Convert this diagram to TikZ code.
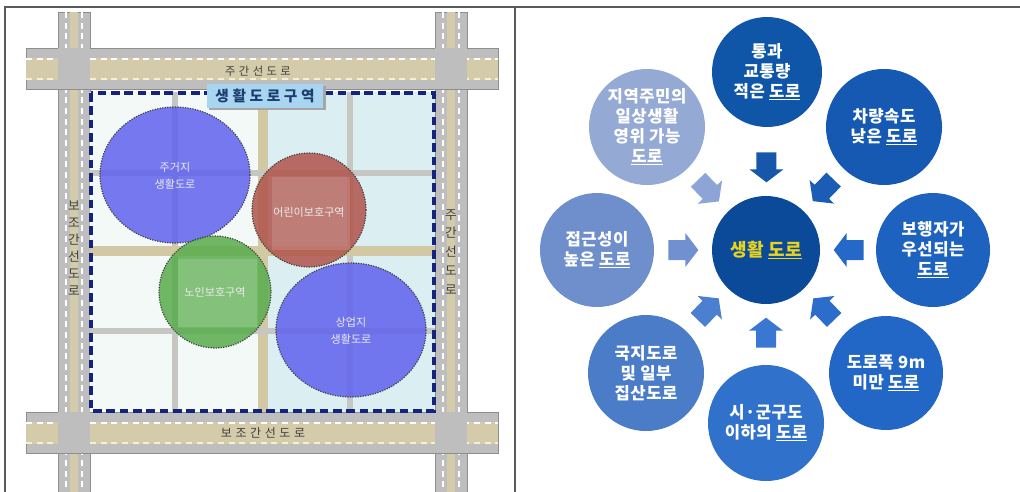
\documentclass[tikz,border=0pt]{standalone}
\usepackage{fontspec}
\setmainfont{Noto Sans CJK KR}
\usetikzlibrary{calc}
\definecolor{framecol}{HTML}{5A5A5A}
\definecolor{roadgray}{HTML}{BEBEBE}
\definecolor{roadedge}{HTML}{8E8E8E}
\definecolor{roadtan}{HTML}{D3CBAA}
\definecolor{lanelight}{HTML}{F4F1D0}
\definecolor{streetgray}{HTML}{C6C6C2}
\definecolor{streettan}{HTML}{D2C8A4}
\definecolor{blockwhite}{HTML}{F3F9F6}
\definecolor{blockcyan}{HTML}{DBEEF2}
\definecolor{zoneblue}{HTML}{16237E}
\definecolor{labelfill}{HTML}{A8D6F0}
\definecolor{labeltext}{HTML}{1E3D6E}
\definecolor{resblue}{HTML}{5F62EE}
\definecolor{kidred}{HTML}{B0544A}
\definecolor{oldgreen}{HTML}{58AC4C}
\definecolor{c0col}{HTML}{0B4A98}
\definecolor{c1col}{HTML}{0F56A9}
\definecolor{c2col}{HTML}{1559B2}
\definecolor{c3col}{HTML}{1D62BF}
\definecolor{c4col}{HTML}{2267C6}
\definecolor{c5col}{HTML}{3071CC}
\definecolor{c6col}{HTML}{4B7CC8}
\definecolor{c7col}{HTML}{6E8FCB}
\definecolor{c8col}{HTML}{94A9D4}
\definecolor{a1col}{HTML}{1757AA}
\definecolor{a2col}{HTML}{1B5DB6}
\definecolor{a3col}{HTML}{2468C8}
\definecolor{a4col}{HTML}{2C6DCC}
\definecolor{a5col}{HTML}{3A77D2}
\definecolor{a6col}{HTML}{4B7FD0}
\definecolor{a7col}{HTML}{7090D0}
\definecolor{a8col}{HTML}{8CA4D6}
\definecolor{centertext}{HTML}{E8D420}
\tikzset{
  road/.style={fill=roadgray, draw=roadedge, line width=0.6pt},
  lane/.style={white, line width=1.1pt, dash pattern=on 4.5pt off 3.5pt},
  zonecirc/.style={fill opacity=0.85, draw=black!75, densely dotted, line width=0.9pt},
  zonetext/.style={text=white!92!black, font=\fontsize{8.3}{13}\selectfont, align=center},
  roadtext/.style={text=black!75, font=\fontsize{8.5}{12.8}\selectfont, align=center, inner sep=0pt},
  bubble/.style={circle, inner sep=0pt, minimum size=#1, text=white, align=center,
    font=\fontsize{12.5}{15}\selectfont\bfseries\addfontfeature{LetterSpace=3}},
}
% block arrow: #1 anchor coordinate, #2 angle, #3 colour
\newcommand\flowarrow[3]{%
  \begin{scope}[shift={(#1)}, rotate=#2]
    \fill[#3] (-15,-10) -- (2,-10) -- (2,-17) -- (15,0) -- (2,17) -- (2,10) -- (-15,10) -- cycle;
  \end{scope}}
\begin{document}
\begin{tikzpicture}[x=0.75pt,y=-0.75pt]
\useasboundingbox (0,0) rectangle (1020,492);
\fill[white] (0,0) rectangle (1020,492);

% ---------------- left panel ----------------
\begin{scope}
\clip (6,8) rectangle (514,492);
\foreach \x in {58,435}{
  \path[road] (\x,12) rectangle ++(32,500);
  \fill[roadtan] (\x+12,12) rectangle ++(8,500);
  \draw[lane] (\x+8,12) -- ++(0,500);
  \draw[lane] (\x+24,12) -- ++(0,500);
}
\foreach \y in {48,412}{
  \path[road] (26,\y) rectangle ++(472,41);
  \fill[roadtan] (26,\y+10) rectangle ++(472,22);
  \draw[lane] (26,\y+11) -- ++(472,0);
  \draw[lane, lanelight] (26,\y+31) -- ++(472,0);
}
\foreach \x in {58,435}{\foreach \y in {48,412}{
  \fill[roadgray] (\x,\y) rectangle ++(32,41);
}}
\end{scope}

\fill[blockwhite] (90,92) rectangle (263,412);
\fill[blockcyan] (263,92) rectangle (435,412);
\draw[streetgray, line width=4.5pt] (175,92) -- (175,412);
\draw[streettan, line width=8pt] (263,92) -- (263,412);
\draw[streetgray, line width=4.5pt] (350,92) -- (350,412);
\draw[streetgray, line width=4.5pt] (90,173) -- (435,173);
\draw[streettan, line width=8pt] (90,251) -- (435,251);
\draw[streetgray, line width=4.5pt] (90,331) -- (435,331);

\draw[zoneblue, line width=2.4pt, dash pattern=on 6.5pt off 3.5pt] (91,93) rectangle (434,411);

\path[zonecirc, fill=resblue] (175,175) ellipse [x radius=75, y radius=68];
\path[zonecirc, fill=kidred] (309,210) circle [radius=57];
\begin{scope}
  \clip (309,210) circle [radius=57];
  \fill[white, opacity=0.13] (272,177) rectangle (350,250);
\end{scope}
\path[zonecirc, fill=oldgreen] (215,292) circle [radius=56];
\begin{scope}
  \clip (215,292) circle [radius=56];
  \fill[white, opacity=0.15] (178,259) rectangle (257,327);
\end{scope}
\path[zonecirc, fill=resblue] (351,330) ellipse [x radius=75, y radius=67];

\node[zonetext] (t1) at (175,176) {주거지\\생활도로};
\node[zonetext] (t2) at (309,212) {어린이보호구역};
\node[zonetext] (t3) at (215,292) {노인보호구역};
\node[zonetext] (t4) at (351,331) {상업지\\생활도로};

\fill[black!35] (209,86) rectangle (326,110);
\node[fill=labelfill, minimum width=87pt, minimum height=18pt, inner sep=0pt,
  text=labeltext, font=\fontsize{11}{13}\selectfont\bfseries\addfontfeature{LetterSpace=25}]
  (zone) at (265,96) {생활도로구역};

\node[roadtext, font=\fontsize{8.5}{12}\selectfont\addfontfeature{LetterSpace=30}]
  (rtop) at (258,71) {주간선도로};
\node[roadtext, font=\fontsize{9}{12}\selectfont\addfontfeature{LetterSpace=30}]
  (rbot) at (263,433) {보조간선도로};
\node[roadtext, font=\fontsize{9.5}{12.8}\selectfont] (rleft) at (74,248) {보\\조\\간\\선\\도\\로};
\node[roadtext, font=\fontsize{9.5}{14.2}\selectfont] (rright) at (451,252) {주\\간\\선\\도\\로};

% ---------------- right panel ----------------
\node[bubble=81pt, fill=c0col, text=centertext,
  font=\fontsize{13.5}{15}\selectfont\bfseries\addfontfeature{LetterSpace=3}]
  (c0) at (766,250) {생활 \underline{도로}};
\node[bubble=82.5pt, fill=c1col] (c1) at (767,72) {통과\\교통량\\적은 \underline{도로}};
\node[bubble=87pt, fill=c2col] (c2) at (884,127) {차량속도\\낮은 \underline{도로}};
\node[bubble=85.5pt, fill=c3col] (c3) at (933,250) {보행자가\\우선되는\\\underline{도로}};
\node[bubble=85.5pt, fill=c4col] (c4) at (886,373) {도로폭 9m\\미만 \underline{도로}};
\node[bubble=87pt, fill=c5col] (c5) at (766,423) {시·군구도\\이하의 \underline{도로}};
\node[bubble=87pt, fill=c6col] (c6) at (646,373) {국지도로\\및 일부\\집산도로};
\node[bubble=85.5pt, fill=c7col] (c7) at (597,250) {접근성이\\높은 \underline{도로}};
\node[bubble=87pt, fill=c8col] (c8) at (647,127) {지역주민의\\일상생활\\영위 가능\\\underline{도로}};

\coordinate (a1) at ($(c0)!62pt!(c1)$);
\coordinate (a2) at ($(c0)!62pt!(c2)$);
\coordinate (a3) at ($(c0)!62pt!(c3)$);
\coordinate (a4) at ($(c0)!62pt!(c4)$);
\coordinate (a5) at ($(c0)!62pt!(c5)$);
\coordinate (a6) at ($(c0)!62pt!(c6)$);
\coordinate (a7) at ($(c0)!62pt!(c7)$);
\coordinate (a8) at ($(c0)!62pt!(c8)$);
\flowarrow{a1}{-90}{a1col}
\flowarrow{a2}{-134}{a2col}
\flowarrow{a3}{180}{a3col}
\flowarrow{a4}{134}{a4col}
\flowarrow{a5}{90}{a5col}
\flowarrow{a6}{46}{a6col}
\flowarrow{a7}{0}{a7col}
\flowarrow{a8}{-46}{a8col}

\draw[framecol, line width=1.1pt] (5,492) -- (5,7) -- (1020,7);
\draw[framecol, line width=1.1pt] (515,7) -- (515,492);
\end{tikzpicture}
\end{document}
